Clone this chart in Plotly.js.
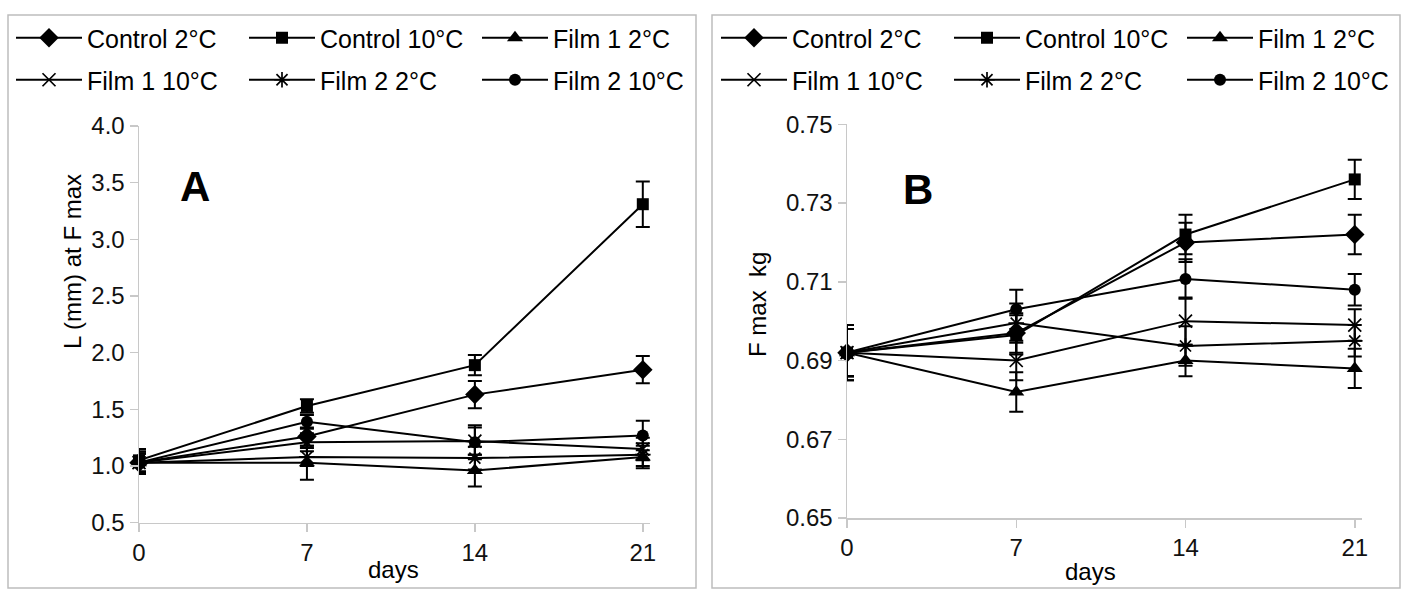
<!DOCTYPE html>
<html>
<head>
<meta charset="utf-8">
<script src="https://cdn.plot.ly/plotly-3.0.1.min.js"></script>
<style>html,body{margin:0;padding:0;background:#fff;}#chart{width:1402px;height:589px;}</style>
</head>
<body>
<div id="chart"></div>
<script>
// ---- data ----
const days = [0, 7, 14, 21];
const seriesNames = ["Control 2°C", "Control 10°C", "Film 1 2°C", "Film 1 10°C", "Film 2 2°C", "Film 2 10°C"];
const symbols = ["diamond", "square", "triangle-up", "x-thin-open", "asterisk-open", "circle"];

// Panel A: L (mm) at F max
const A_control2 = [1.03, 1.26, 1.63, 1.85];
const A_control10 = [1.05, 1.53, 1.89, 3.31];
const A_film1_2 = [1.03, 1.03, 0.96, 1.08];
const A_film1_10 = [1.03, 1.21, 1.22, 1.15];
const A_film2_2 = [1.03, 1.08, 1.07, 1.10];
const A_film2_10 = [1.03, 1.39, 1.21, 1.27];
const A_err_control2 = [0.08, 0.08, 0.12, 0.12];
const A_err_control10 = [0.10, 0.06, 0.09, 0.20];
const A_err_film1_2 = [0.10, 0.15, 0.14, 0.10];
const A_err_film1_10 = [0.08, 0.08, 0.12, 0.10];
const A_err_film2_2 = [0.08, 0.08, 0.10, 0.10];
const A_err_film2_10 = [0.08, 0.06, 0.15, 0.13];

// Panel B: F max kg
const B_control2 = [0.692, 0.697, 0.720, 0.722];
const B_control10 = [0.692, 0.6965, 0.722, 0.736];
const B_film1_2 = [0.692, 0.682, 0.690, 0.688];
const B_film1_10 = [0.692, 0.690, 0.700, 0.699];
const B_film2_2 = [0.692, 0.6995, 0.6937, 0.695];
const B_film2_10 = [0.692, 0.703, 0.7107, 0.708];
const B_err_control2 = [0.006, 0.005, 0.005, 0.005];
const B_err_control10 = [0.007, 0.005, 0.005, 0.005];
const B_err_film1_2 = [0.007, 0.005, 0.004, 0.005];
const B_err_film1_10 = [0.006, 0.005, 0.006, 0.004];
const B_err_film2_2 = [0.006, 0.005, 0.005, 0.004];
const B_err_film2_10 = [0.006, 0.005, 0.005, 0.004];

const yTicksA = [0.5, 1.0, 1.5, 2.0, 2.5, 3.0, 3.5, 4.0];
const yTicksB = [0.65, 0.67, 0.69, 0.71, 0.73, 0.75];

const A_vals = [A_control2, A_control10, A_film1_2, A_film1_10, A_film2_2, A_film2_10];
const A_errs = [A_err_control2, A_err_control10, A_err_film1_2, A_err_film1_10, A_err_film2_2, A_err_film2_10];
const B_vals = [B_control2, B_control10, B_film1_2, B_film1_10, B_film2_2, B_film2_10];
const B_errs = [B_err_control2, B_err_control10, B_err_film1_2, B_err_film1_10, B_err_film2_2, B_err_film2_10];

const markerSizes = [15, 12, 14, 13, 13, 12];
const traces = [];
function addPanel(vals, errs, xa, ya, legendRow1, legendRow2) {
  vals.forEach((v, i) => {
    const open = symbols[i].endsWith('open');
    const t = {
      x: days, y: v, name: seriesNames[i], type: 'scatter', mode: 'lines+markers',
      xaxis: xa, yaxis: ya, legend: i < 3 ? legendRow1 : legendRow2, cliponaxis: false,
      line: {color: '#000', width: 2},
      marker: {symbol: symbols[i], size: markerSizes[i], color: '#000', line: {color: '#000', width: open ? 1.7 : 0}},
      error_y: {type: 'data', array: errs[i], visible: true, color: '#000', thickness: 2, width: 7}
    };
    if (i % 3 === 2) t.legendwidth = 125; // last column narrower so the row fits
    traces.push(t);
  });
}
addPanel(A_vals, A_errs, 'x', 'y', 'legend', 'legend2');
addPanel(B_vals, B_errs, 'x2', 'y2', 'legend3', 'legend4');

const W = 1402, H = 589;
const px = v => v / W, py = v => 1 - v / H;
const FAM = 'Liberation Sans, Arial, sans-serif';
const axisFont = {family: FAM, size: 24, color: '#111'};
const xaxisCommon = {range: [0, 21.3], tickvals: days, ticks: 'outside', ticklen: 8, tickcolor: '#c8c8c8', tickwidth: 1.5,
  showline: true, linecolor: '#c8c8c8', linewidth: 1.5, showgrid: false, zeroline: false, tickfont: axisFont, fixedrange: true};
const yaxisCommon = {ticks: 'outside', ticklen: 8, tickcolor: '#c8c8c8', tickwidth: 1.5,
  showline: true, linecolor: '#c8c8c8', linewidth: 1.5, showgrid: false, zeroline: false, tickfont: axisFont, fixedrange: true};

const legendCommon = {orientation: 'h', xanchor: 'left', yanchor: 'middle', font: {family: FAM, size: 25, color: '#000'},
  entrywidth: 152, entrywidthmode: 'pixels', itemwidth: 66, bgcolor: 'rgba(0,0,0,0)', traceorder: 'normal', borderwidth: 0};

const ann = (text, x, y, size, angle) => ({text: text, xref: 'paper', yref: 'paper', x: px(x), y: py(y), xanchor: 'center', yanchor: 'middle',
  textangle: angle || 0, showarrow: false, font: {family: FAM, size: size, color: '#000'}});

const layout = {
  width: W, height: H, margin: {l: 0, r: 0, t: 0, b: 0}, paper_bgcolor: '#fff', plot_bgcolor: '#fff', showlegend: true,
  font: {family: FAM},
  xaxis: Object.assign({}, xaxisCommon, {domain: [px(139), px(650)], anchor: 'y'}),
  yaxis: Object.assign({}, yaxisCommon, {domain: [py(522.7), py(126)], range: [0.5, 4.0], tickvals: yTicksA, tickformat: '.1f', anchor: 'x'}),
  xaxis2: Object.assign({}, xaxisCommon, {domain: [px(847), px(1362)], anchor: 'y2'}),
  yaxis2: Object.assign({}, yaxisCommon, {domain: [py(518), py(124.3)], range: [0.65, 0.75], tickvals: yTicksB, tickformat: '.2f', anchor: 'x2'}),
  legend: Object.assign({}, legendCommon, {x: px(11), y: py(38)}),
  legend2: Object.assign({}, legendCommon, {x: px(11), y: py(80)}),
  legend3: Object.assign({}, legendCommon, {x: px(716), y: py(38)}),
  legend4: Object.assign({}, legendCommon, {x: px(716), y: py(80)}),
  shapes: [
    {type: 'rect', xref: 'paper', yref: 'paper', x0: px(8), x1: px(696), y0: py(588), y1: py(15), line: {color: '#bdbdbd', width: 1.5}},
    {type: 'rect', xref: 'paper', yref: 'paper', x0: px(712), x1: px(1400), y0: py(588), y1: py(15), line: {color: '#bdbdbd', width: 1.5}}
  ],
  annotations: [
    ann('<b>A</b>', 195, 186, 42),
    ann('<b>B</b>', 918, 190, 42),
    ann('L (mm) at F max', 72, 262, 24, -90),
    ann('F max  kg', 757, 305, 24, -90),
    ann('days', 393, 569, 24),
    ann('days', 1090, 571, 24)
  ]
};
Plotly.newPlot('chart', traces, layout, {displayModeBar: false, staticPlot: true});
</script>
</body>
</html>
